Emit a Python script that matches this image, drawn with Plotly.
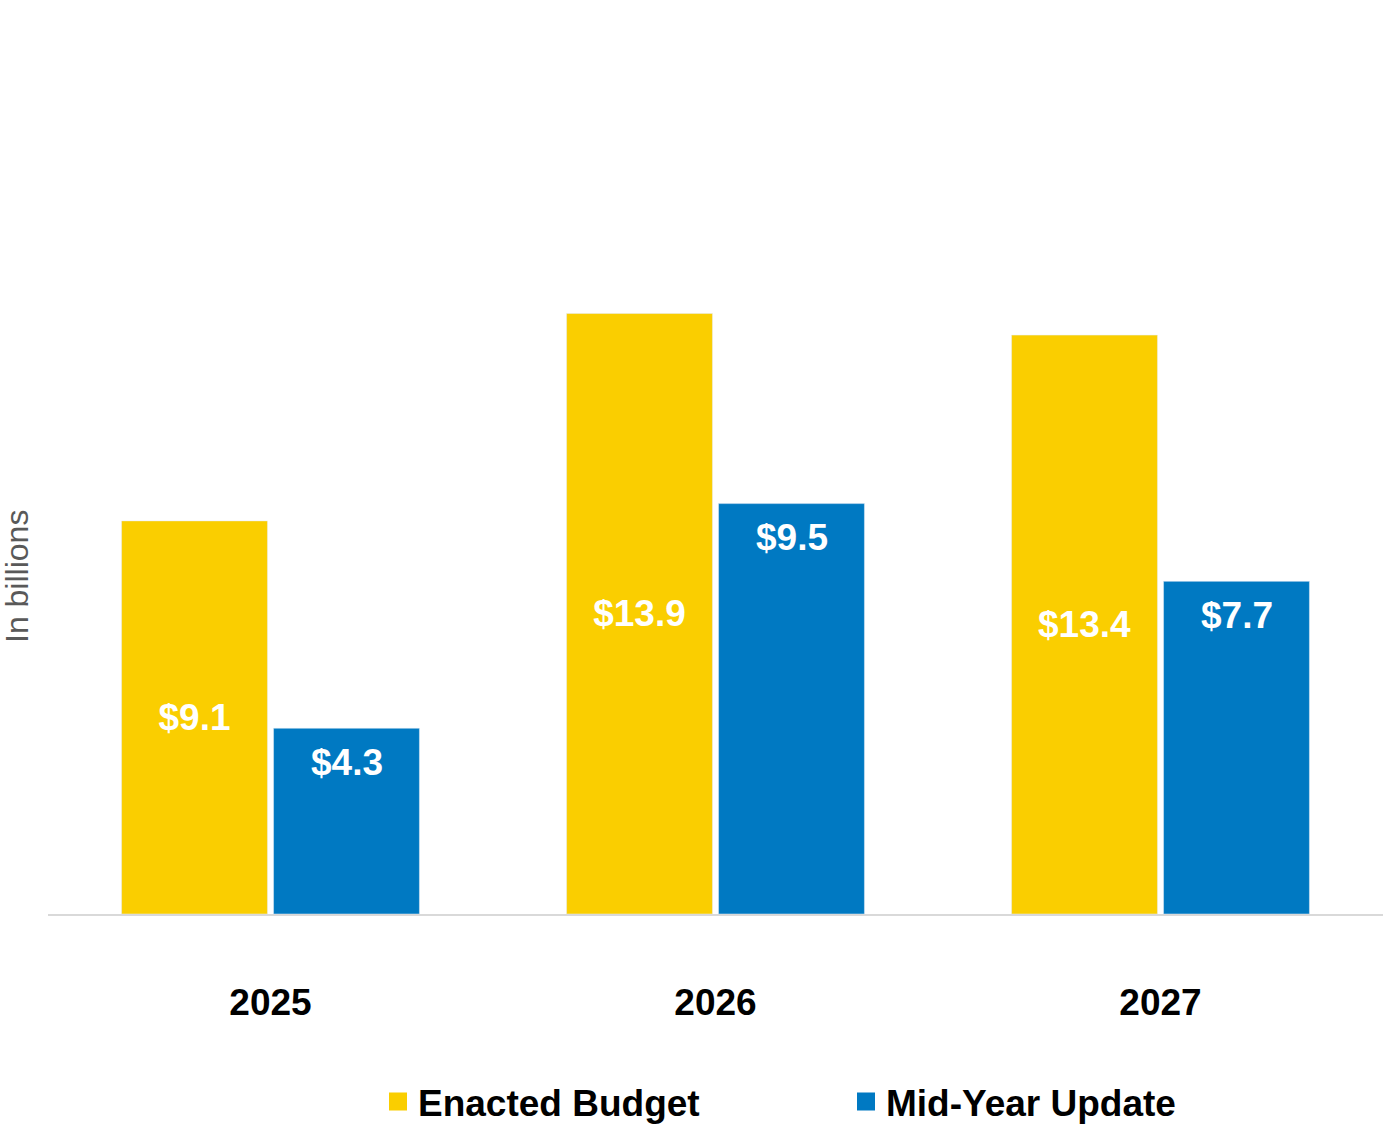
import plotly.graph_objects as go

years = ["2025", "2026", "2027"]
enacted = [9.1, 13.9, 13.4]
midyear = [4.3, 9.5, 7.7]
enacted_labels = ["$9.1", "$13.9", "$13.4"]
midyear_labels = ["$4.3", "$9.5", "$7.7"]

YELLOW = "#FACE00"
BLUE = "#0079C2"
FONT = "Liberation Sans, Arial, sans-serif"
LABEL_FONT = dict(family=FONT, size=37, color="white", weight="bold")

fig = go.Figure()
fig.add_trace(go.Bar(x=years, y=enacted, text=enacted_labels, name="Enacted Budget",
                     marker=dict(color=YELLOW), textposition="inside",
                     insidetextanchor="middle", showlegend=False,
                     textfont=LABEL_FONT))
fig.add_trace(go.Bar(x=years, y=midyear, name="Mid-Year Update",
                     marker=dict(color=BLUE), textposition="none", showlegend=False))
# legend proxies
fig.add_trace(go.Scatter(x=[None], y=[None], mode="markers", name="Enacted Budget",
                         marker=dict(symbol="square", size=16, color=YELLOW,
                                     line=dict(width=2, color=YELLOW))))
fig.add_trace(go.Scatter(x=[None], y=[None], mode="markers", name="Mid-Year Update",
                         marker=dict(symbol="square", size=16, color=BLUE,
                                     line=dict(width=2, color=BLUE))))

annotations = [dict(text="In billions", xref="paper", yref="paper",
                    x=(17 - 48) / 1335, y=(914 - 577) / 864, textangle=-90,
                    showarrow=False, xanchor="center", yanchor="middle",
                    font=dict(family=FONT, size=32, color="#595959"))]
for i, (v, lab) in enumerate(zip(midyear, midyear_labels)):
    annotations.append(dict(x=i, y=v, xref="x", yref="y", text=lab, showarrow=False,
                            xanchor="center", yanchor="middle", xshift=76, yshift=-34,
                            font=LABEL_FONT))

fig.update_layout(
    width=1383, height=1124,
    margin=dict(l=48, r=0, t=50, b=210),
    paper_bgcolor="white", plot_bgcolor="white",
    barmode="group", bargap=0.317, bargroupgap=0.04,
    uniformtext=dict(mode="show", minsize=10),
    font=dict(family=FONT),
    xaxis=dict(type="category", range=[-0.5, 2.5], showgrid=False, showline=True,
               linecolor="#D9D9D9", linewidth=2, ticks="", ticklabelstandoff=55,
               tickfont=dict(family=FONT, size=37, color="black", weight="bold")),
    yaxis=dict(range=[0, 20], showgrid=False, showticklabels=False, zeroline=False,
               showline=False),
    showlegend=True,
    legend=dict(orientation="h", xref="container", yref="container",
                x=378/1383, xanchor="left", y=1 - 1102/1124, yanchor="middle",
                entrywidth=423, entrywidthmode="pixels",
                font=dict(family=FONT, size=37, color="black", weight="bold"),
                bgcolor="rgba(0,0,0,0)", itemsizing="trace"),
    annotations=annotations,
)

fig.write_html("out.html")
